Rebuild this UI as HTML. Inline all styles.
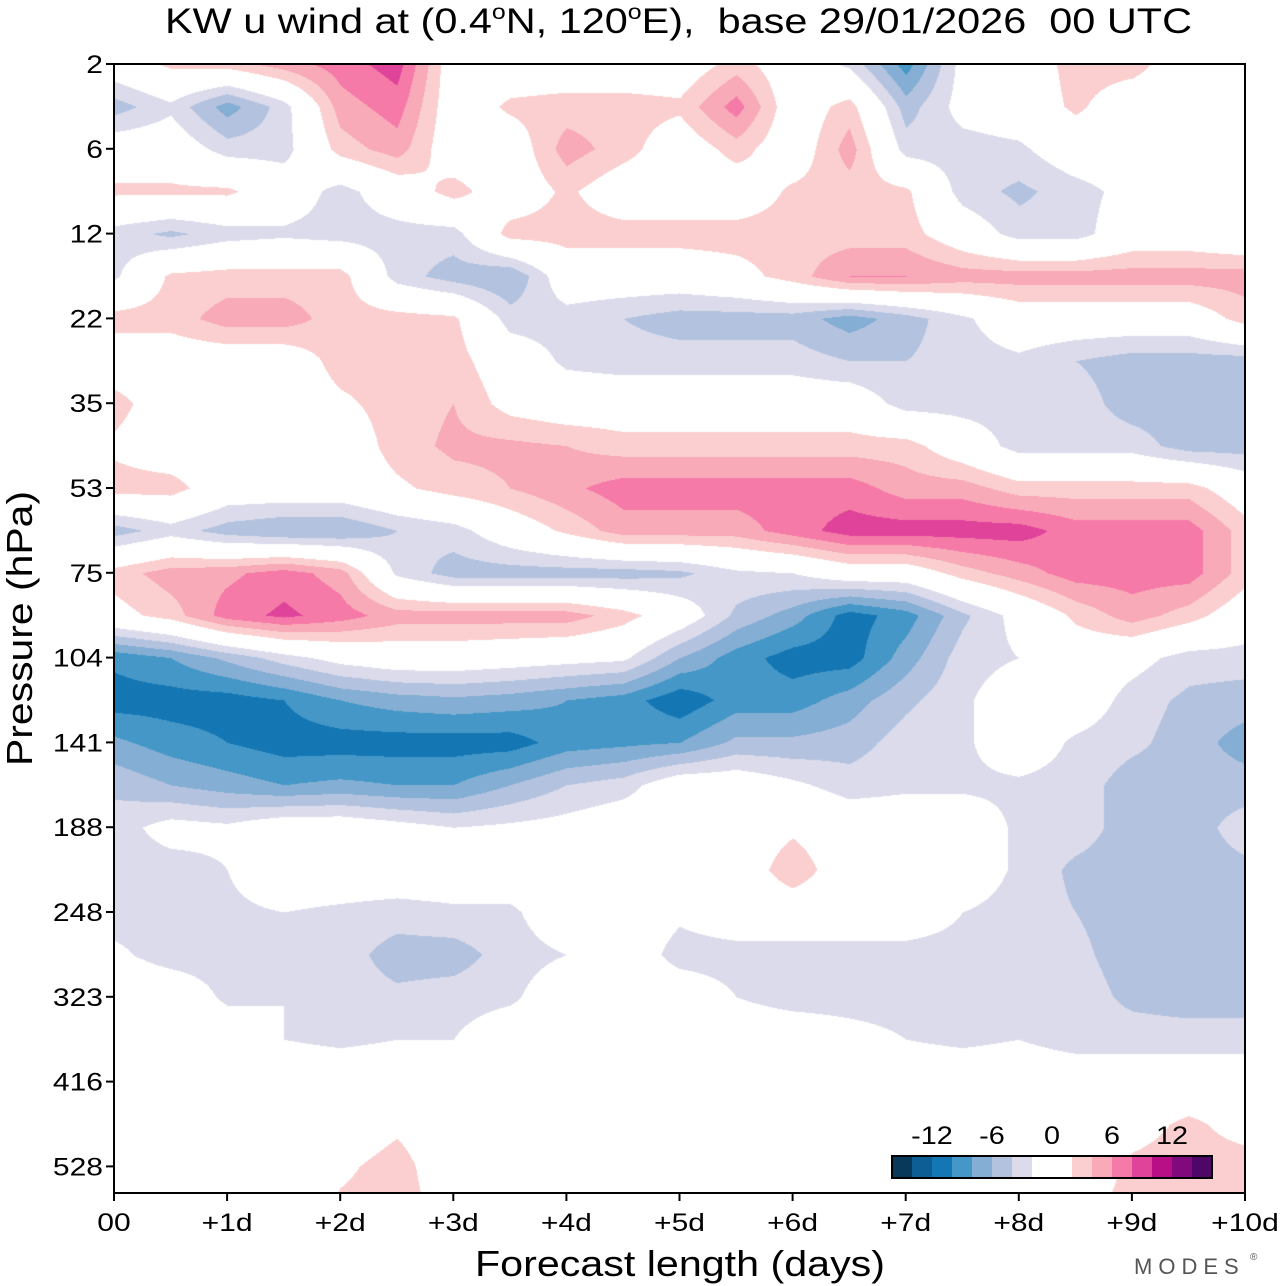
<!DOCTYPE html>
<html><head><meta charset="utf-8"><style>
body{margin:0;background:#fff;width:1280px;height:1286px;overflow:hidden;font-family:"Liberation Sans",sans-serif}
#wrap{position:relative;width:1280px;height:1286px}
canvas{position:absolute;left:114px;top:64px}
svg{position:absolute;left:0;top:0}
</style></head><body><div id="wrap">
<canvas id="cv" width="1131" height="1129"></canvas>
<svg id="sv" width="1280" height="1286"></svg>
</div>
<script>
// Categories / tick labels
const dayTicks=["00","+1d","+2d","+3d","+4d","+5d","+6d","+7d","+8d","+9d","+10d"];
const pressureTicks=["2","6","12","22","35","53","75","104","141","188","248","323","416","528"];
const barLabels=["-12","-6","0","6","12"];
const barLabelValues=[-12,-6,0,6,12];
const levels=[-14,-12,-10,-8,-6,-4,-2,2,4,6,8,10,12,14];
const colors=["#08395a","#0c5e94","#1477b4","#4597c7","#84aed3","#b3c3df","#dcdbeb","#ffffff","#fbcfcf","#f8aab8","#f57aa8","#df449a","#b80f86","#7e0a7b","#4e0667"];
// u-wind grid (m/s): rows every half pressure tick from 2 hPa downward, columns every half day
const r00=[0,2.5,3,5,7,9,0,0,0,0,0,3,0,-2.5,-9,-1,0,3,3,0,0];
const r05=[-5,-2.5,-7,-3,5,7,0,2.5,3,3,2.5,7,0,3,-5,-1,0,2.5,0,0,0];
const r10=[0,0,-3,-3,3,5,0,0,5,3,0,3,0,5,-3,-3,-2.5,0,0,0,0];
const r15=[2.5,2.5,2.5,0,-3,0,3,0,2.5,0,0,0,2.5,3,2.5,-3,-4.5,-3,-1,0,0];
const r20=[-3,-4.5,-3,-2.5,-3,-3,-3,3,3,3,3,3,3,3,3,0,-3,-3,0,0,-1];
const r25=[-2.5,2.5,3,3,3,-3,-5,-6,0,0,0,1,3,6,6,5,5,5,5,5,5];
const r30=[3,3,5,5,3,3,2.5,-3,-3,-4,-5,-5,-5,-7,-5,-2.5,0,0,0,0,3];
const r35=[0,0,0,0,3,3,3,0,-2.5,-3,-3,-3,-3,-4,-4,-3,-2.5,-4,-5,-5,-5];
const r40=[3,0,0,0,1.5,3,4,1,0,0,0,0,0,0,-3,-3,-3,-3,-5,-5,-5];
const r45=[1.5,0,0,0,0,3,4.5,4.5,4,3,3,3,3,3,3,0,-3,-3,-3,-5,-5];
const r50=[3,3,0,0,0,1.5,3,4,5.5,7,7,7,7,7,5,5,3,3,3,3,0];
const r55=[-5,-3,-5,-6,-6,-4,-3,0,2.5,5,5,5,7,9,9,9,9,7,7,7,3];
const r60=[3,5,5.5,7,5,-2.5,-5,-5,-5,-5,-4.5,-2.5,-2,0,0,3,5,7,7,7,3];
const r65=[1,3,7,8.5,7,5,5,5,5,3,0,-4.5,-7,-11,-9,-4.5,-1,2.5,5,3,0];
const r70=[-9.5,-8,-5.5,-3,-1,0,0,-0.5,-1,-1.5,-6,-9,-11,-11,-7,-3,-2,0,-1,-3,-3];
const r75=[-11,-11,-11,-10,-8,-7,-6.5,-7,-8,-9,-11.5,-9,-9,-7,-4.5,-2.5,0,0,-3,-4.5,-5];
const r80=[-7.5,-9,-10,-11,-11,-11,-11,-11,-9,-8.5,-8,-5.5,-5.5,-5,-3,-2.5,0,-2.5,-3.5,-5,-7];
const r85=[-4.5,-6,-7,-8,-7.5,-8,-8,-6,-4,-3,0,0,-1.5,-3,-2.5,-2.5,-2.5,-3,-5,-5,-5];
const r90=[-3,-1,-1.5,0,0,-1,-2,-1.5,-1,0,0,0,1.5,0,0,0,-2.5,-3,-5,-5,-3];
const r95=[-3,-3,-2,0,0,0,0,0,0,0,0,0,3.5,0,0,0,-2.5,-4.5,-5,-5,-4.5];
const r100=[-3,-3,-2.5,-2,-2.5,-3,-2.5,-2.5,0,0,-1.5,0,0,0,0,-2,-3,-4,-5,-5,-5];
const r105=[-1.5,-3,-3,-2.5,-3,-5,-5,-3,-2,0,-3,-3,-3,-3,-3,-3,-3,-3.5,-5,-5,-5];
const r110=[0,0,-2.5,-2,-3,-3.5,-3,-2.5,0,0,0,-2,-3,-3,-3,-3,-3,-3,-4.5,-5,-5];
const r115=[0,0,0,-2,-2.5,-2,-2,0,0,0,0,0,0,-1,-2,-2.5,-2,-3,-3,-3,-3];
const r120=[0,0,0,0,0,0,0,0,0,0,0,0,0,0,0,0,0,0,0,0,0];
const r125=[0,0,0,0,0,1.5,0,0,0,0,0,0,0,0,0,0,0,0,1,2.5,1];
const r130=[0,0,0,0,1.5,3,0,0,0,0,0,0,0,0,0,0,0,0,2.5,3,3];
const r135=[0,0,0,0,2.5,3,1,0,0,0,0,0,0,0,0,0,0,1,3,3,3];
const grid=[r00,r05,r10,r15,r20,r25,r30,r35,r40,r45,r50,r55,r60,r65,r70,r75,r80,r85,r90,r95,r100,r105,r110,r115,r120,r125,r130,r135];

const X0=114,X1=1245,Y0=64,TICK=84.8,W=1131,H=1129;
const xScale=d=>X0+d*(X1-X0)/10;
const yScale=r=>Y0+r*TICK;
function band(v){let i=0;while(i<levels.length&&v>=levels[i])i++;return i;}
function hex(c){return [parseInt(c.slice(1,3),16),parseInt(c.slice(3,5),16),parseInt(c.slice(5,7),16)];}
const rgb=colors.map(hex);
const cv=document.getElementById('cv'),ctx=cv.getContext('2d');
const img=ctx.createImageData(W,H);
const nr=grid.length,nc=grid[0].length;
for(let py=0;py<H;py++){
  const r=(py/TICK)*2; let ri=Math.min(Math.floor(r),nr-2); const fy=Math.min(r-ri,1);
  for(let px=0;px<W;px++){
    const c=px/W*20; let ci=Math.min(Math.floor(c),nc-2); const fx=c-ci;
    const v=(grid[ri][ci]*(1-fx)+grid[ri][ci+1]*fx)*(1-fy)+(grid[ri+1][ci]*(1-fx)+grid[ri+1][ci+1]*fx)*fy;
    const col=rgb[band(v)],k=(py*W+px)*4;
    img.data[k]=col[0];img.data[k+1]=col[1];img.data[k+2]=col[2];img.data[k+3]=255;
  }
}
ctx.putImageData(img,0,0);

const NS='http://www.w3.org/2000/svg',sv=document.getElementById('sv');
function mk(t,a,txt){const e=document.createElementNS(NS,t);for(const k in a)e.setAttribute(k,a[k]);if(txt!==undefined)e.textContent=txt;sv.appendChild(e);return e;}
function stretch(e,f){const l=e.getComputedTextLength();e.setAttribute('textLength',(l*f).toFixed(1));e.setAttribute('lengthAdjust','spacingAndGlyphs');}
let e;
e=mk('rect',{x:X0,y:Y0,width:X1-X0,height:1193-Y0,fill:'none',stroke:'#000','stroke-width':2});


dayTicks.forEach((t,i)=>{
  const x=xScale(i);
  e=mk('line',{x1:x,x2:x,y1:1193,y2:1201,stroke:'#000','stroke-width':2});
  
  
  e=mk('text',{x:x,y:1231,'text-anchor':'middle','font-size':25},t);
  
  
  stretch(e,1.2);
});
pressureTicks.forEach((t,i)=>{
  const y=yScale(i);
  e=mk('line',{x1:X0-8,x2:X0,y1:y,y2:y,stroke:'#000','stroke-width':2});
  
  
  e=mk('text',{x:103,y:y+9,'text-anchor':'end','font-size':25},t);
  
  
  stretch(e,1.2);
});
colors.forEach((c,i)=>{
  const w=(i===7)?40:20; const x=892+(i<7?i*20:(i===7?140:180+(i-8)*20));
  e=mk('rect',{x:x,y:1156,width:w,height:22,fill:c});
  
  
});
e=mk('rect',{x:892,y:1156,width:320,height:22,fill:'none',stroke:'#000','stroke-width':2});


barLabels.forEach((t,i)=>{
  const x=1052+barLabelValues[i]*10;
  e=mk('text',{x:x,y:1144,'text-anchor':'middle','font-size':25},t);
  
  
  stretch(e,1.15);
});
e=mk('text',{x:165,y:33,'font-size':35,style:'white-space:pre',textLength:1027,lengthAdjust:'spacingAndGlyphs'});


e.innerHTML='KW u wind at (0.4<tspan dy="-14" font-size="21">o</tspan><tspan dy="14">N, 120</tspan><tspan dy="-14" font-size="21">o</tspan><tspan dy="14">E),  base 29/01/2026  00 UTC</tspan>';
e=mk('text',{x:475,y:1276,'font-size':36,textLength:410,lengthAdjust:'spacingAndGlyphs'},'Forecast length (days)');


e=mk('text',{x:0,y:0,'font-size':36,textLength:275,lengthAdjust:'spacingAndGlyphs',transform:'translate(32,766) rotate(-90)'},'Pressure (hPa)');


e=mk('text',{x:1134,y:1274,'font-size':22,fill:'#555','letter-spacing':'6'},'MODES');


e=mk('text',{x:1250,y:1260,'font-size':10,fill:'#555'},'®');


</script></body></html>
